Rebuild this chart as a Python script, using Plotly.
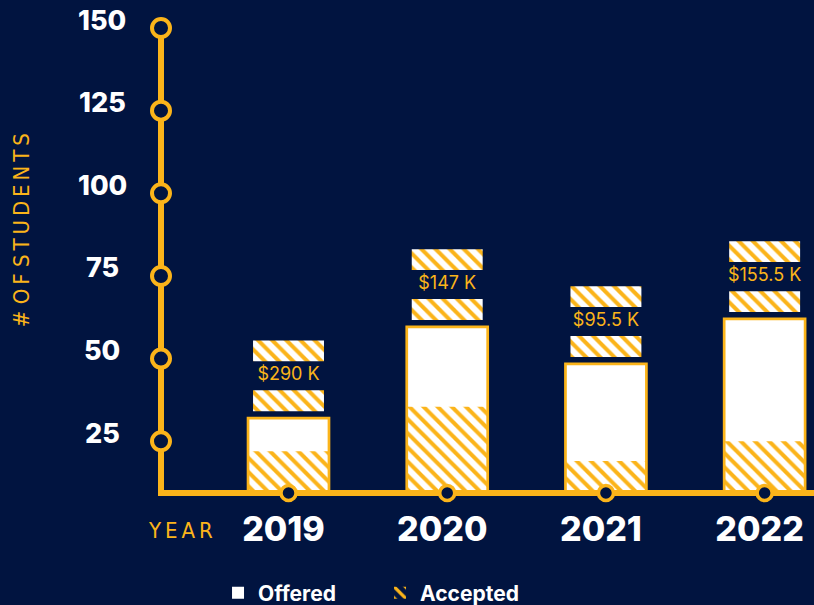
import plotly.graph_objects as go

# Scholarship students per year
YEARS = [2019, 2020, 2021, 2022]
OFFERED = [32, 59.6, 48.4, 62]
ACCEPTED = [22, 35.4, 19, 25]
AWARDS = ["$290 K", "$147 K", "$95.5 K", "$155.5 K"]
Y_TICKS = [25, 50, 75, 100, 125, 150]

NAVY = "#011440"
GOLD = "#FBB41A"
WHITE = "#FFFFFF"

# axis ranges; the spine sits slightly inside so its full stroke is visible
X_RANGE = [YEARS[0] - 0.8223, YEARS[0] + 3.311]
Y_RANGE = [8.44, 150]
SPINE_X = YEARS[0] - 0.8034
BASE_Y = 9.35

BAR_W = 0.51          # bar width in year units
TAG_W = 0.447         # width of the striped award tags
TAG_GAP, TAG_H, TAG_BAND = 2.1, 6.3, 8.8   # tag spacing in student units

hatch = dict(shape="\\", size=10, solidity=0.4, fgopacity=1)


def spaced(word):
    """Letter-space a caption with thin spaces."""
    return "\u2009".join(word)


fig = go.Figure()

# offered: plain white bar
fig.add_bar(x=YEARS, y=OFFERED, width=BAR_W, name="Offered",
            marker=dict(color=WHITE, line=dict(width=0)))
# accepted: gold stripes over the white bar
fig.add_bar(x=YEARS, y=ACCEPTED, width=BAR_W, name="Accepted",
            marker=dict(color=GOLD, line=dict(width=0),
                        pattern=dict(**hatch, fillmode="replace")))
# gold outline around each offered bar
fig.add_bar(x=YEARS, y=OFFERED, width=BAR_W, showlegend=False,
            marker=dict(color="rgba(0,0,0,0)", line=dict(color=GOLD, width=2.7)))

# striped tags framing the award amount above each bar
lower_base = [v + TAG_GAP for v in OFFERED]
upper_base = [v + TAG_GAP + TAG_H + TAG_BAND for v in OFFERED]
fig.add_bar(x=YEARS + YEARS, y=[TAG_H] * (2 * len(YEARS)), base=lower_base + upper_base,
            width=TAG_W, showlegend=False,
            marker=dict(color=GOLD, line=dict(width=0),
                        pattern=dict(**hatch, fgcolor=GOLD, bgcolor=WHITE)))
fig.add_scatter(x=YEARS, y=[v + TAG_GAP + TAG_H + TAG_BAND / 2 for v in OFFERED],
                mode="text", text=AWARDS, showlegend=False, cliponaxis=False,
                textfont=dict(family="Inter", size=18, color=GOLD))

# L-shaped axis spine
fig.add_scatter(x=[SPINE_X, SPINE_X, X_RANGE[1]], y=[Y_TICKS[-1], BASE_Y, BASE_Y],
                mode="lines", showlegend=False, hoverinfo="skip",
                line=dict(color=GOLD, width=6))
# rings on the student ticks
fig.add_scatter(x=[SPINE_X] * len(Y_TICKS), y=Y_TICKS, mode="markers",
                showlegend=False, cliponaxis=False, hoverinfo="skip",
                marker=dict(size=18, color=NAVY, opacity=1,
                            line=dict(color=GOLD, width=4)))
# rings on the year positions
fig.add_scatter(x=YEARS, y=[BASE_Y] * len(YEARS), mode="markers",
                showlegend=False, cliponaxis=False, hoverinfo="skip",
                marker=dict(size=15, color=NAVY, opacity=1,
                            line=dict(color=GOLD, width=3.5)))

# student count labels
for v in Y_TICKS:
    fig.add_annotation(x=0, xref="paper", xshift=-56, y=v, yref="y", yshift=8,
                       text=str(v), showarrow=False, xanchor="center", yanchor="middle",
                       font=dict(family="Inter", size=27, color=WHITE, weight=800))

caption_font = dict(family="DejaVu Sans Condensed", size=22, color=GOLD)
fig.add_annotation(x=0, xref="paper", xshift=22, y=0, yref="paper", yshift=-34,
                   text=spaced("YEAR"), showarrow=False, xanchor="center", yanchor="middle",
                   font=caption_font)
fig.add_annotation(x=0, xref="paper", xshift=-137, y=0.568, yref="paper",
                   text=" ".join(spaced(w) for w in "# OF STUDENTS".split()),
                   textangle=-90, showarrow=False, xanchor="center", yanchor="middle",
                   font=caption_font)

fig.update_layout(
    width=814, height=605,
    margin=dict(l=158, r=0, t=28, b=109, autoexpand=False),
    paper_bgcolor=NAVY, plot_bgcolor=NAVY,
    barmode="overlay", hovermode=False,
    legend=dict(orientation="h", x=0.0915, y=-0.1635, xanchor="left", yanchor="top",
                entrywidth=117, bgcolor="rgba(0,0,0,0)",
                font=dict(family="Inter", size=21, color=WHITE, weight="bold")),
    xaxis=dict(range=X_RANGE, showgrid=False, zeroline=False, showline=False,
               tickvals=YEARS, ticktext=[str(y) for y in YEARS], ticks="",
               ticklabelstandoff=10, ticklabelshift=-5, fixedrange=True, automargin=False,
               tickfont=dict(family="Inter", size=34, color=WHITE, weight=800)),
    yaxis=dict(range=Y_RANGE, showgrid=False, zeroline=False, showline=False,
               showticklabels=False, ticks="", fixedrange=True, automargin=False),
)

fig.write_html("out.html")
